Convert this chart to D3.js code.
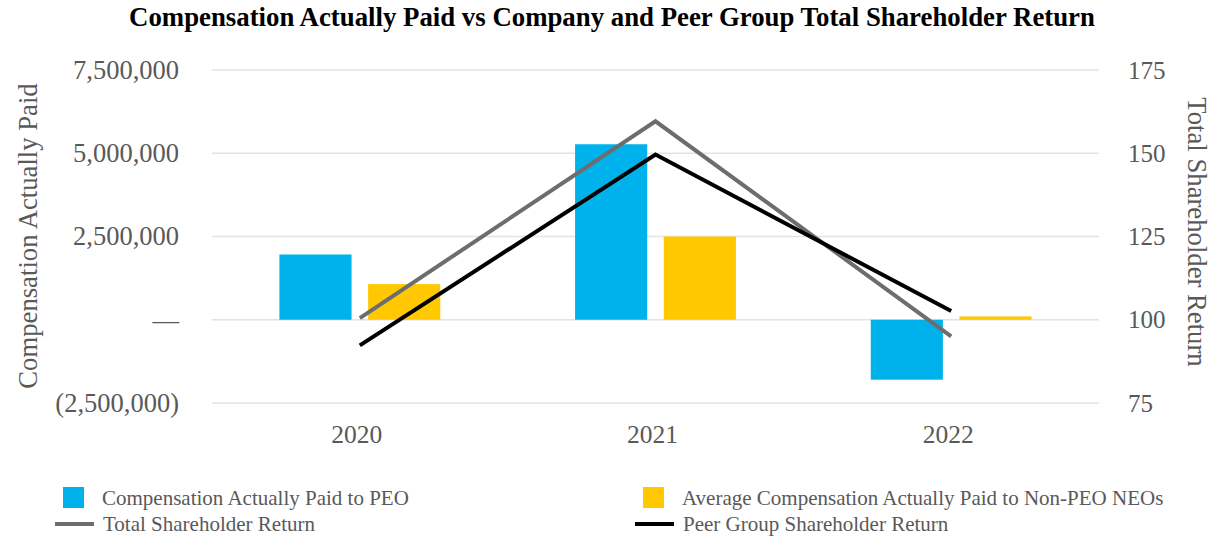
<!DOCTYPE html>
<html>
<head>
<meta charset="utf-8">
<script src="https://cdn.jsdelivr.net/npm/d3@7"></script>
<style>
  body { margin: 0; background: #fff; }
  text { font-family: "Liberation Serif", "Times New Roman", serif; }
</style>
</head>
<body>
<div id="chart"></div>
<script>
var svgWidth = 1226;
var svgHeight = 550;

// data
var years = ["2020", "2021", "2022"];
var peoCap = [1960000, 5270000, -1800000];
var neoCap = [1070000, 2500000, 100000];
var tsr = [100.5, 159.6, 95.0];
var peerTsr = [92.3, 149.6, 102.6];
var leftTicks = [-2500000, 0, 2500000, 5000000, 7500000];
var rightTicks = [75, 100, 125, 150, 175];

var plot = { left: 212, right: 1099, top: 70, bottom: 403 };

var svg = d3.select("#chart")
  .append("svg")
  .attr("width", svgWidth)
  .attr("height", svgHeight);

// scales
var x0 = d3.scaleBand()
  .domain(years)
  .range([plot.left, plot.right])
  .padding(0);

var yLeft = d3.scaleLinear()
  .domain([-2500000, 7500000])
  .range([plot.bottom, plot.top]);

var yRight = d3.scaleLinear()
  .domain([75, 175])
  .range([plot.bottom, plot.top]);

var step = x0.bandwidth();
var barW = step * 0.244;
var gap = step * 0.056;

// gridlines
svg.append("g")
  .selectAll("line")
  .data(leftTicks)
  .enter()
  .append("line")
  .attr("x1", plot.left)
  .attr("x2", plot.right)
  .attr("y1", d => yLeft(d))
  .attr("y2", d => yLeft(d))
  .attr("stroke", "#e3e3e3")
  .attr("stroke-width", 1.5);

// left axis
var fmtLeft = function(d) {
  if (d === 0) return "\u2014";
  if (d < 0) return "(" + d3.format(",")(-d) + ")";
  return d3.format(",")(d);
};
var leftAxis = d3.axisLeft(yLeft)
  .tickValues(leftTicks)
  .tickFormat(fmtLeft)
  .tickSize(0)
  .tickPadding(0);
var gLeft = svg.append("g")
  .attr("transform", "translate(179,0)")
  .call(leftAxis);
gLeft.select(".domain").remove();
gLeft.selectAll("text")
  .attr("fill", "#595959")
  .style("font-size", "26.5px");

// right axis
var rightAxis = d3.axisRight(yRight)
  .tickValues(rightTicks)
  .tickSize(0)
  .tickPadding(0);
var gRight = svg.append("g")
  .attr("transform", "translate(1128,0)")
  .call(rightAxis);
gRight.select(".domain").remove();
gRight.selectAll("text")
  .attr("fill", "#595959")
  .style("font-size", "25px");

// x axis
var bottomAxis = d3.axisBottom(x0).tickSize(0).tickPadding(0);
var gBottom = svg.append("g")
  .attr("transform", "translate(-3,425)")
  .call(bottomAxis);
gBottom.select(".domain").remove();
gBottom.selectAll("text")
  .attr("fill", "#595959")
  .style("font-size", "25.5px");

// bars
var center = d => x0(d) + step / 2;

svg.append("g")
  .selectAll("rect")
  .data(years)
  .enter()
  .append("rect")
  .attr("x", (d, i) => center(d) - gap / 2 - barW)
  .attr("width", barW)
  .attr("y", (d, i) => yLeft(Math.max(0, peoCap[i])))
  .attr("height", (d, i) => Math.abs(yLeft(peoCap[i]) - yLeft(0)))
  .attr("fill", "#00b2eb");

svg.append("g")
  .selectAll("rect")
  .data(years)
  .enter()
  .append("rect")
  .attr("x", (d, i) => center(d) + gap / 2)
  .attr("width", barW)
  .attr("y", (d, i) => yLeft(Math.max(0, neoCap[i])))
  .attr("height", (d, i) => Math.abs(yLeft(neoCap[i]) - yLeft(0)))
  .attr("fill", "#ffc800");

// lines
var line = d3.line()
  .x(d => center(d.year))
  .y(d => yRight(d.v));

svg.append("path")
  .datum(years.map((y, i) => ({ year: y, v: tsr[i] })))
  .attr("d", line)
  .attr("fill", "none")
  .attr("stroke", "#6d6d6d")
  .attr("stroke-width", 4);

svg.append("path")
  .datum(years.map((y, i) => ({ year: y, v: peerTsr[i] })))
  .attr("d", line)
  .attr("fill", "none")
  .attr("stroke", "#000")
  .attr("stroke-width", 4);

// title
svg.append("text")
  .attr("x", 612)
  .attr("y", 26)
  .attr("text-anchor", "middle")
  .style("font-size", "26.8px")
  .style("font-weight", "bold")
  .attr("fill", "#000")
  .text("Compensation Actually Paid vs Company and Peer Group Total Shareholder Return");

// axis titles
svg.append("text")
  .attr("transform", "translate(37,236) rotate(-90)")
  .attr("text-anchor", "middle")
  .style("font-size", "26.7px")
  .attr("fill", "#595959")
  .text("Compensation Actually Paid");

svg.append("text")
  .attr("transform", "translate(1188,232) rotate(90)")
  .attr("text-anchor", "middle")
  .style("font-size", "26.7px")
  .attr("fill", "#595959")
  .text("Total Shareholder Return");

// legend
var legend = svg.append("g");
var legendItems = [
  { label: "Compensation Actually Paid to PEO", type: "rect", color: "#00b2eb", x: 63, y: 498 },
  { label: "Average Compensation Actually Paid to Non-PEO NEOs", type: "rect", color: "#ffc800", x: 643, y: 498 },
  { label: "Total Shareholder Return", type: "line", color: "#6d6d6d", x: 55, y: 524 },
  { label: "Peer Group Shareholder Return", type: "line", color: "#000", x: 635, y: 524 }
];
legendItems.forEach(function(d) {
  if (d.type === "rect") {
    legend.append("rect")
      .attr("x", d.x).attr("y", d.y - 11)
      .attr("width", 21).attr("height", 21)
      .attr("fill", d.color);
  } else {
    legend.append("line")
      .attr("x1", d.x).attr("x2", d.x + 39)
      .attr("y1", d.y).attr("y2", d.y)
      .attr("stroke", d.color)
      .attr("stroke-width", 4);
  }
  legend.append("text")
    .attr("x", d.type === "rect" ? d.x + 39 : d.x + 48)
    .attr("y", d.y + 7)
    .style("font-size", "21px")
    .attr("fill", "#595959")
    .text(d.label);
});
</script>
</body>
</html>
